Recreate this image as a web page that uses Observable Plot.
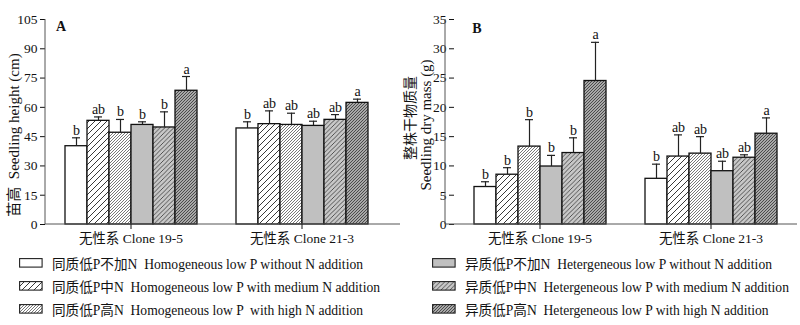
<!DOCTYPE html>
<html>
<head>
<meta charset="utf-8">
<script src="https://cdn.jsdelivr.net/npm/d3@7"></script>
<script src="https://cdn.jsdelivr.net/npm/@observablehq/plot@0.6"></script>
<style>
  html, body { margin: 0; padding: 0; background: #fff; }
  #wrap { position: relative; width: 800px; height: 325px; font-family: "Liberation Serif", "Noto Sans CJK SC", serif; color: #111; }
  #panels { position: absolute; left: 0; top: 0; width: 800px; height: 250px; display: flex; }
  #panels > div { width: 400px; height: 250px; }
  .leg { position: absolute; display: flex; align-items: center; font-family: "Liberation Serif", "Noto Sans CJK SC", serif; font-size: 13.6px; white-space: pre; height: 20px; }
  .leg span { font-family: "Liberation Serif", "Noto Sans CJK SC", serif; }
  .leg svg { margin-right: 9px; flex: none; }
</style>
</head>
<body>
<div id="wrap">
  <div id="panels"><div id="pa"></div><div id="pb"></div></div>
  <div id="legend"></div>
</div>
<script>
const clones = ["无性系 Clone 19-5", "无性系 Clone 21-3"];
const treatments = ["homoNone", "homoMed", "homoHigh", "heteroNone", "heteroMed", "heteroHigh"];
const legendLabels = [
  "同质低P不加N  Homogeneous low P without N addition",
  "同质低P中N  Homogeneous low P with medium N addition",
  "同质低P高N  Homogeneous low P  with high N addition",
  "异质低P不加N  Hetergeneous low P without N addition",
  "异质低P中N  Hetergeneous low P with medium N addition",
  "异质低P高N  Hetergeneous low P with high N addition"
];

// Panel A: seedling height (cm)
const heightMean19 = [40.1, 53.1, 47.0, 51.0, 49.7, 68.5];
const heightErr19  = [4.3, 2.0, 6.8, 1.6, 8.0, 7.3];
const heightSig19  = ["b", "ab", "b", "b", "b", "a"];
const heightMean21 = [49.2, 51.4, 51.0, 50.5, 53.6, 62.3];
const heightErr21  = [3.4, 6.8, 6.0, 2.4, 2.7, 1.9];
const heightSig21  = ["b", "ab", "ab", "ab", "ab", "a"];
const heightTicks  = [0, 15, 30, 45, 60, 75, 90, 105];

// Panel B: seedling dry mass (g)
const massMean19 = [6.4, 8.5, 13.3, 9.9, 12.2, 24.5];
const massErr19  = [0.9, 1.2, 4.6, 1.9, 2.6, 6.6];
const massSig19  = ["b", "b", "b", "b", "b", "a"];
const massMean21 = [7.8, 11.6, 12.1, 9.1, 11.4, 15.5];
const massErr21  = [2.5, 3.7, 2.9, 1.7, 0.5, 2.7];
const massSig21  = ["b", "ab", "ab", "ab", "ab", "a"];
const massTicks  = [0, 5, 10, 15, 20, 25, 30, 35];

const FONT = '"Liberation Serif", "Noto Sans CJK SC", serif';

function rows(m19, e19, s19, m21, e21, s21) {
  const out = [];
  treatments.forEach((t, i) => out.push({clone: clones[0], treat: t, mean: m19[i], err: e19[i], sig: s19[i]}));
  treatments.forEach((t, i) => out.push({clone: clones[1], treat: t, mean: m21[i], err: e21[i], sig: s21[i]}));
  return out;
}

function hatch(id, size, bg, line, w) {
  const s = size;
  return `<pattern id="${id}" patternUnits="userSpaceOnUse" width="${s}" height="${s}">
    <rect width="${s}" height="${s}" fill="${bg}"/>
    <path d="M${-s/4},${s/4} l${s/2},${-s/2} M0,${s} l${s},${-s} M${s*3/4},${s*5/4} l${s/2},${-s/2}" stroke="${line}" stroke-width="${w}"/>
  </pattern>`;
}
function defsFor(prefix) {
  return `<defs>
    <pattern id="${prefix}p0" patternUnits="userSpaceOnUse" width="4" height="4"><rect width="4" height="4" fill="#ffffff"/></pattern>
    ${hatch(prefix + "p1", 6, "#ffffff", "#222", 0.9)}
    ${hatch(prefix + "p2", 3, "#ffffff", "#555", 0.8)}
    <pattern id="${prefix}p3" patternUnits="userSpaceOnUse" width="4" height="4"><rect width="4" height="4" fill="#c0c0c0"/></pattern>
    ${hatch(prefix + "p4", 4.5, "#c8c8c8", "#333", 0.8)}
    ${hatch(prefix + "p5", 3, "#a8a8a8", "#333", 0.8)}
  </defs>`;
}

function panel({data, yDomain, yTicks, fxPadOuter, fxAlign, marginRight, prefix, axisEnd}) {
  const fills = treatments.map((t, i) => `url(#${prefix}p${i})`);
  const top = d => d.mean + d.err;
  const svg = Plot.plot({
    width: 400, height: 250,
    marginLeft: 45, marginRight, marginTop: 19, marginBottom: 26,
    style: {fontFamily: FONT, fontSize: "13.5px", color: "#111", background: "transparent", overflow: "visible"},
    fx: {domain: clones, paddingInner: 0, paddingOuter: fxPadOuter, align: fxAlign, label: null, axis: "bottom", tickSize: 5, tickPadding: 4},
    x: {domain: treatments, paddingInner: 0, paddingOuter: 0.77, align: 0.5, axis: null},
    y: {domain: yDomain, ticks: yTicks, label: null, tickSize: 5, tickPadding: 3},
    color: {type: "ordinal", domain: treatments, range: fills},
    marks: [
      Plot.barY(data, {fx: "clone", x: "treat", y: "mean", fill: "treat", stroke: "#111", strokeWidth: 1.3}),
      Plot.ruleX(data, {fx: "clone", x: "treat", y1: "mean", y2: top, stroke: "#222", strokeWidth: 1.2}),
      Plot.tickY(data, {fx: "clone", x: "treat", y: top, stroke: "#222", strokeWidth: 1.2, insetLeft: 7, insetRight: 7}),
      Plot.text(data, {fx: "clone", x: "treat", y: top, text: "sig", dy: -3, lineAnchor: "bottom", fontSize: 14, fill: "#111"})
    ]
  });
  const y = svg.scale("y");
  const sel = d3.select(svg);
  sel.insert(() => new DOMParser().parseFromString(
    `<svg xmlns="http://www.w3.org/2000/svg">${defsFor(prefix)}</svg>`, "image/svg+xml").documentElement.firstElementChild, ":first-child");
  const y0 = y.apply(yDomain[0]), y1 = y.apply(yDomain[1]);
  sel.append("line").attr("x1", 45).attr("x2", 45).attr("y1", y0).attr("y2", y1).attr("stroke", "#555");
  sel.append("line").attr("x1", 45).attr("x2", axisEnd).attr("y1", y0).attr("y2", y0).attr("stroke", "#555");
  return svg;
}

const dataA = rows(heightMean19, heightErr19, heightSig19, heightMean21, heightErr21, heightSig21);
const dataB = rows(massMean19, massErr19, massSig19, massMean21, massErr21, massSig21);

const svgA = panel({data: dataA, yDomain: [0, 105], yTicks: heightTicks, fxPadOuter: 0.038, fxAlign: 0, marginRight: 0, prefix: "a", axisEnd: 400});
const svgB = panel({data: dataB, yDomain: [0, 35], yTicks: massTicks, fxPadOuter: 0.0263, fxAlign: 1, marginRight: 4, prefix: "b", axisEnd: 397});

function addText(svg, x, y, txt, opts = {}) {
  const t = d3.select(svg).append("text")
    .attr("transform", `translate(${x},${y}) rotate(${opts.rotate || 0})`)
    .attr("text-anchor", opts.anchor || "middle")
    .attr("dominant-baseline", "central")
    .attr("font-family", FONT)
    .attr("font-size", opts.size || 13)
    .attr("font-weight", opts.weight || "normal")
    .attr("fill", "#111")
    .text(txt);
  return t;
}
addText(svgA, 14, 135, "苗高  Seedling height (cm)", {rotate: -90, size: 15});
addText(svgA, 61, 26, "A", {weight: "bold", size: 14});
addText(svgB, 10, 118, "整株干物质量", {rotate: -90, size: 14});
addText(svgB, 26, 125, "Seedling dry mass (g)", {rotate: -90, size: 15});
addText(svgB, 77, 28, "B", {weight: "bold", size: 14});

document.getElementById("pa").appendChild(svgA);
document.getElementById("pb").appendChild(svgB);

// Legend
const legend = document.getElementById("legend");
const legPos = [
  [19, 253], [19, 276], [19, 299],
  [432, 253], [432, 276], [432, 299]
];
treatments.forEach((t, i) => {
  const div = document.createElement("div");
  div.className = "leg";
  div.style.left = legPos[i][0] + "px";
  div.style.top = legPos[i][1] + "px";
  div.innerHTML = `<svg width="24" height="10">${defsFor("l" + i)}<rect x="0.6" y="0.6" width="22.5" height="8.5" fill="url(#l${i}p${i})" stroke="#222" stroke-width="1.1"/></svg><span></span>`;
  div.querySelector("span").textContent = legendLabels[i];
  legend.appendChild(div);
});
</script>
</body>
</html>
